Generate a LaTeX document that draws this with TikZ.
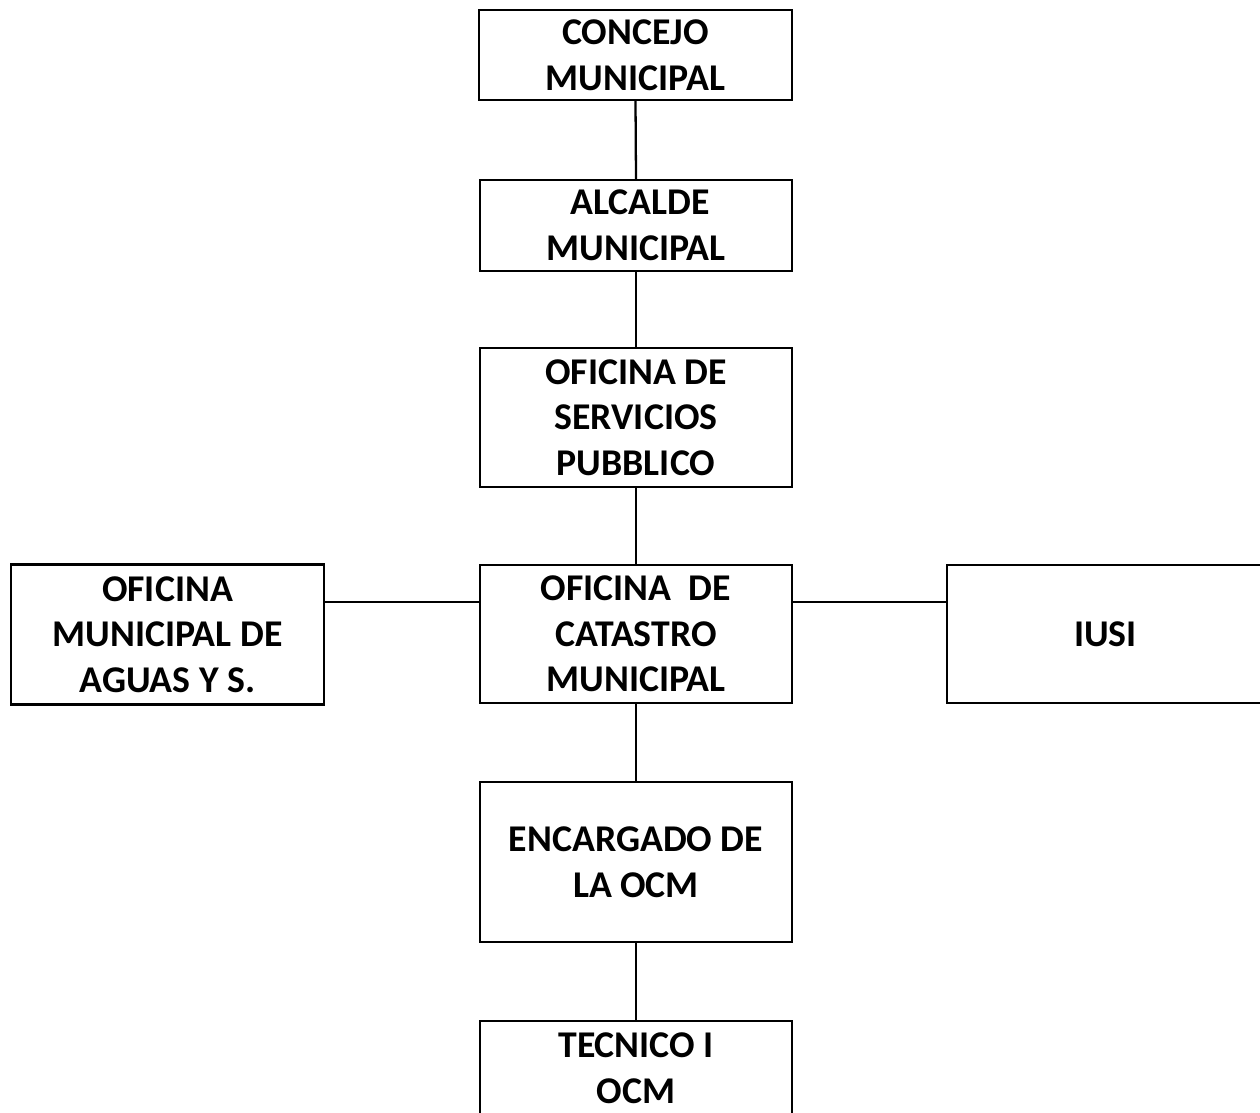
\documentclass[tikz,border=0pt]{standalone}
\usepackage{fontspec}
\setmainfont{Carlito}
\begin{document}
\begin{tikzpicture}[x=0.02cm,y=-0.02cm,
  box/.style={draw=black, line width=1.4pt, align=center, inner sep=0pt,
    font=\fontsize{21.5}{26}\selectfont\bfseries},
  conn/.style={draw=black, line width=1.3pt}]
\useasboundingbox (0,0) rectangle (1260,1112);
\begin{scope}
\clip (0,0) rectangle (1260,1112);
\node[box, minimum width=313*0.02cm, minimum height=90*0.02cm] (conc) at (635.5,55) {CONCEJO\\MUNICIPAL};
\node[box, minimum width=312*0.02cm, minimum height=91*0.02cm] (alc) at (636,225.5) {\ ALCALDE\\MUNICIPAL};
\node[box, minimum width=312*0.02cm, minimum height=139*0.02cm] (serv) at (636,417.5) {OFICINA DE\\SERVICIOS\\PUBBLICO};
\node[box, minimum width=312*0.02cm, minimum height=138*0.02cm] (cat) at (636,634) {OFICINA\ \ DE\\CATASTRO\\MUNICIPAL};
\node[box, minimum width=313*0.02cm, minimum height=140*0.02cm] (agua) at (167.5,634.5) {OFICINA\\MUNICIPAL DE\\AGUAS Y S.};
\node[box, minimum width=317*0.02cm, minimum height=138*0.02cm] (iusi) at (1105.5,634) {IUSI};
\node[box, minimum width=312*0.02cm, minimum height=160*0.02cm] (enc) at (636,862) {ENCARGADO DE\\LA OCM};
\node[box, minimum width=312*0.02cm, minimum height=94*0.02cm] (tec) at (636,1068) {TECNICO I\\OCM};
\coordinate (hy) at (0,602);
\draw[conn] (conc.south) -- (alc.north);
\draw[conn] (alc.south) -- (serv.north);
\draw[conn] (serv.south) -- (cat.north);
\draw[conn] (cat.south) -- (enc.north);
\draw[conn] (enc.south) -- (tec.north);
\draw[conn] (agua.east |- hy) -- (cat.west |- hy);
\draw[conn] (cat.east |- hy) -- (iusi.west |- hy);
\end{scope}
\end{tikzpicture}
\end{document}
